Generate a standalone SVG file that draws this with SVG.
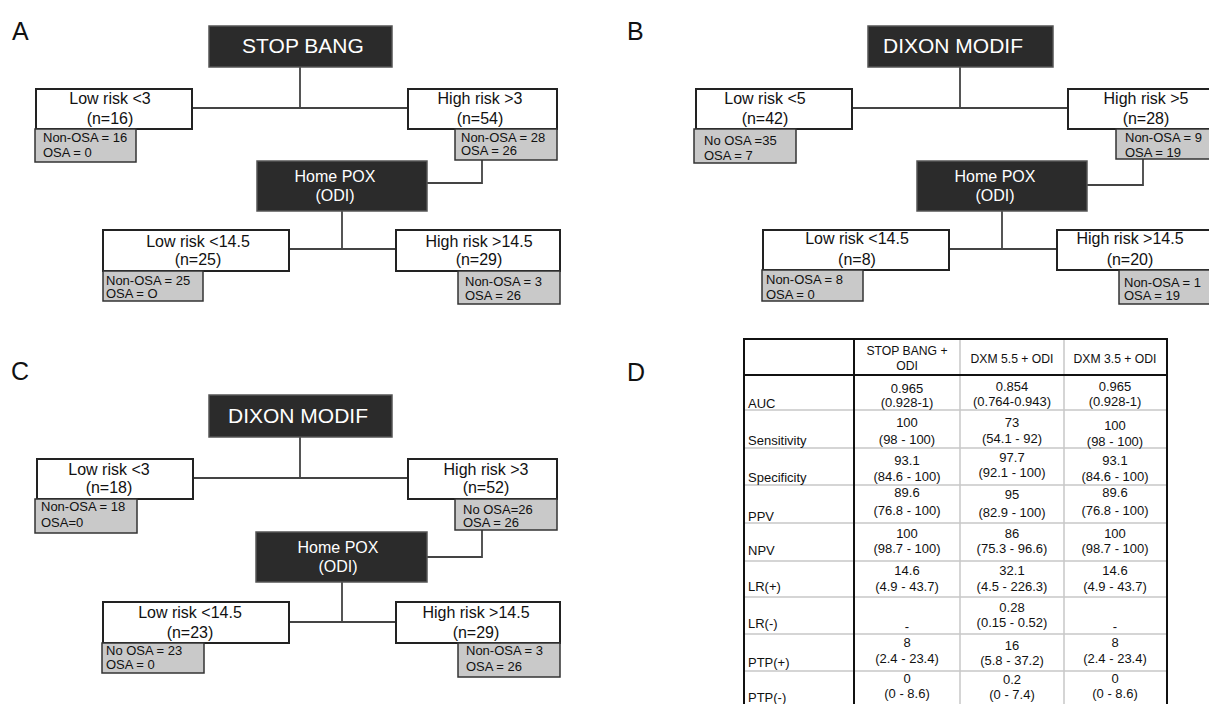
<svg xmlns="http://www.w3.org/2000/svg" width="1209" height="704" viewBox="0 0 1209 704">
<style>
text{font-family:"Liberation Sans",Arial,Helvetica,sans-serif;fill:#111}
.dark{fill:#2b2b2b;stroke:#555;stroke-width:1.5}
.white{fill:#fff;stroke:#222;stroke-width:2}
.gray{fill:#c9c9c9;stroke:#333;stroke-width:1.5}
.conn{fill:none;stroke:#444;stroke-width:1.8}
.ttl{font-size:21px;fill:#fff}
.pox{font-size:16px;fill:#fff;text-anchor:middle}
.n{font-size:16px;text-anchor:middle}
.g{font-size:13px}
.lbl{font-size:25px}
.tb{font-size:13px}
.tc{font-size:13px;text-anchor:middle}
.th{font-size:12.2px;text-anchor:middle}
.thick{stroke:#111;stroke-width:2;fill:none}
.thin{stroke:#c8c8c8;stroke-width:1.5;fill:none}
</style>
<rect width="1209" height="704" fill="#fff"/>

<!-- Panel labels -->
<text class="lbl" x="12" y="40">A</text>
<text class="lbl" x="627" y="40">B</text>
<text class="lbl" x="11" y="380">C</text>
<text class="lbl" x="627" y="381">D</text>

<!-- Connectors -->
<g id="connectors">
<path class="conn" d="M300,67V108M192,108H408"/>
<path class="conn" d="M482,160V183H427"/>
<path class="conn" d="M342,211V249M289,249H396"/>
<path class="conn" d="M960,67V108M852,108H1068"/>
<path class="conn" d="M1143,159V185H1087"/>
<path class="conn" d="M1002,211V249M949,249H1057"/>
<path class="conn" d="M300,437V478M193,478H408"/>
<path class="conn" d="M482,530V557H427"/>
<path class="conn" d="M342,582V622M289,622H396"/>
</g>

<!-- Panel A -->
<g id="a-stopbang"><rect class="dark" x="209" y="26" width="183" height="41"/><text class="ttl" x="303" y="53" text-anchor="middle">STOP BANG</text></g>
<g id="a-low"><rect class="white" x="36" y="89" width="156" height="40"/><text class="n" x="110" y="104">Low risk &lt;3</text><text class="n" x="110" y="124">(n=16)</text></g>
<g id="a-low-res"><rect class="gray" x="35" y="129" width="101" height="33"/><text class="g" x="43" y="142">Non-OSA = 16</text><text class="g" x="43" y="157">OSA = 0</text></g>
<g id="a-high"><rect class="white" x="408" y="89" width="149" height="40"/><text class="n" x="480" y="104">High risk &gt;3</text><text class="n" x="480" y="124">(n=54)</text></g>
<g id="a-high-res"><rect class="gray" x="455" y="129" width="102" height="31"/><text class="g" x="461" y="142">Non-OSA = 28</text><text class="g" x="461" y="155">OSA = 26</text></g>
<g id="a-pox"><rect class="dark" x="257" y="161" width="170" height="50"/><text class="pox" x="335" y="182">Home POX</text><text class="pox" x="335" y="201">(ODI)</text></g>
<g id="a-low2"><rect class="white" x="103" y="230" width="186" height="41"/><text class="n" x="198" y="247">Low risk &lt;14.5</text><text class="n" x="198" y="265">(n=25)</text></g>
<g id="a-low2-res"><rect class="gray" x="103" y="271" width="100" height="30"/><text class="g" x="106" y="285">Non-OSA = 25</text><text class="g" x="106" y="298">OSA = O</text></g>
<g id="a-high2"><rect class="white" x="396" y="230" width="164" height="41"/><text class="n" x="479" y="247">High risk &gt;14.5</text><text class="n" x="479" y="265">(n=29)</text></g>
<g id="a-high2-res"><rect class="gray" x="458" y="271" width="102" height="33"/><text class="g" x="465" y="286">Non-OSA = 3</text><text class="g" x="465" y="300">OSA = 26</text></g>

<!-- Panel B -->
<g id="b-dixon"><rect class="dark" x="868" y="26" width="185" height="41"/><text class="ttl" x="883" y="53">DIXON MODIF</text></g>
<g id="b-low"><rect class="white" x="696" y="89" width="156" height="40"/><text class="n" x="765" y="104">Low risk &lt;5</text><text class="n" x="765" y="124">(n=42)</text></g>
<g id="b-low-res"><rect class="gray" x="694" y="129" width="102" height="34"/><text class="g" x="704" y="145">No OSA =35</text><text class="g" x="704" y="160">OSA = 7</text></g>
<g id="b-high"><rect class="white" x="1068" y="89" width="160" height="40"/><text class="n" x="1146" y="104">High risk &gt;5</text><text class="n" x="1146" y="124">(n=28)</text></g>
<g id="b-high-res"><rect class="gray" x="1116" y="129" width="110" height="30"/><text class="g" x="1125" y="142">Non-OSA = 9</text><text class="g" x="1125" y="157">OSA = 19</text></g>
<g id="b-pox"><rect class="dark" x="917" y="161" width="170" height="50"/><text class="pox" x="995" y="182">Home POX</text><text class="pox" x="995" y="201">(ODI)</text></g>
<g id="b-low2"><rect class="white" x="763" y="230" width="186" height="40"/><text class="n" x="857" y="244">Low risk &lt;14.5</text><text class="n" x="857" y="265">(n=8)</text></g>
<g id="b-low2-res"><rect class="gray" x="762" y="270" width="101" height="31"/><text class="g" x="766" y="284">Non-OSA = 8</text><text class="g" x="766" y="299">OSA = 0</text></g>
<g id="b-high2"><rect class="white" x="1057" y="230" width="170" height="40"/><text class="n" x="1130" y="244">High risk &gt;14.5</text><text class="n" x="1130" y="265">(n=20)</text></g>
<g id="b-high2-res"><rect class="gray" x="1119" y="270" width="110" height="34"/><text class="g" x="1124" y="287">Non-OSA = 1</text><text class="g" x="1124" y="300">OSA = 19</text></g>

<!-- Panel C -->
<g id="c-dixon"><rect class="dark" x="209" y="395" width="183" height="42"/><text class="ttl" x="228" y="423">DIXON MODIF</text></g>
<g id="c-low"><rect class="white" x="37" y="459" width="156" height="40"/><text class="n" x="109" y="475">Low risk &lt;3</text><text class="n" x="109" y="493">(n=18)</text></g>
<g id="c-low-res"><rect class="gray" x="35" y="499" width="102" height="34"/><text class="g" x="41" y="511">Non-OSA = 18</text><text class="g" x="41" y="527">OSA=0</text></g>
<g id="c-high"><rect class="white" x="408" y="459" width="149" height="40"/><text class="n" x="486" y="475">High risk &gt;3</text><text class="n" x="486" y="493">(n=52)</text></g>
<g id="c-high-res"><rect class="gray" x="455" y="499" width="102" height="31"/><text class="g" x="463" y="514">No OSA=26</text><text class="g" x="463" y="527">OSA = 26</text></g>
<g id="c-pox"><rect class="dark" x="256" y="532" width="171" height="50"/><text class="pox" x="338" y="553">Home POX</text><text class="pox" x="338" y="572">(ODI)</text></g>
<g id="c-low2"><rect class="white" x="103" y="602" width="186" height="41"/><text class="n" x="190" y="618">Low risk &lt;14.5</text><text class="n" x="190" y="638">(n=23)</text></g>
<g id="c-low2-res"><rect class="gray" x="102" y="643" width="102" height="30"/><text class="g" x="106" y="655">No OSA = 23</text><text class="g" x="106" y="669">OSA = 0</text></g>
<g id="c-high2"><rect class="white" x="396" y="602" width="164" height="41"/><text class="n" x="476" y="618">High risk &gt;14.5</text><text class="n" x="476" y="638">(n=29)</text></g>
<g id="c-high2-res"><rect class="gray" x="458" y="643" width="102" height="34"/><text class="g" x="466" y="655">Non-OSA = 3</text><text class="g" x="466" y="671">OSA = 26</text></g>

<!-- Panel D table -->
<g id="d-table">
<path class="thin" d="M744,410H1167M744,448H1167M744,485H1167M744,523H1167M744,561H1167M744,597H1167M744,634H1167M744,671H1167M960,339V710M1064,339V710"/>
<path class="thick" d="M744,375H1167M854,339V710"/>
<rect class="thick" x="744" y="339" width="423" height="371"/>
<text class="th" x="907" y="355">STOP BANG +</text><text class="th" x="907" y="370">ODI</text>
<text class="th" x="1012" y="363">DXM 5.5 + ODI</text>
<text class="th" x="1115" y="363">DXM 3.5 + ODI</text>

<text class="tb" x="748" y="408">AUC</text>
<text class="tb" x="748" y="445">Sensitivity</text>
<text class="tb" x="748" y="482">Specificity</text>
<text class="tb" x="748" y="521">PPV</text>
<text class="tb" x="748" y="555">NPV</text>
<text class="tb" x="748" y="591">LR(+)</text>
<text class="tb" x="748" y="628">LR(-)</text>
<text class="tb" x="748" y="667">PTP(+)</text>
<text class="tb" x="748" y="702">PTP(-)</text>

<text class="tc" x="907" y="393">0.965</text><text class="tc" x="907" y="407">(0.928-1)</text>
<text class="tc" x="1012" y="391">0.854</text><text class="tc" x="1012" y="406">(0.764-0.943)</text>
<text class="tc" x="1115" y="391">0.965</text><text class="tc" x="1115" y="406">(0.928-1)</text>

<text class="tc" x="907" y="427">100</text><text class="tc" x="907" y="444">(98 - 100)</text>
<text class="tc" x="1012" y="427">73</text><text class="tc" x="1012" y="443">(54.1 - 92)</text>
<text class="tc" x="1115" y="430">100</text><text class="tc" x="1115" y="446">(98 - 100)</text>

<text class="tc" x="907" y="465">93.1</text><text class="tc" x="907" y="481">(84.6 - 100)</text>
<text class="tc" x="1012" y="462">97.7</text><text class="tc" x="1012" y="477">(92.1 - 100)</text>
<text class="tc" x="1115" y="465">93.1</text><text class="tc" x="1115" y="481">(84.6 - 100)</text>

<text class="tc" x="907" y="497">89.6</text><text class="tc" x="907" y="515">(76.8 - 100)</text>
<text class="tc" x="1012" y="499">95</text><text class="tc" x="1012" y="517">(82.9 - 100)</text>
<text class="tc" x="1115" y="497">89.6</text><text class="tc" x="1115" y="515">(76.8 - 100)</text>

<text class="tc" x="907" y="538">100</text><text class="tc" x="907" y="553">(98.7 - 100)</text>
<text class="tc" x="1012" y="538">86</text><text class="tc" x="1012" y="553">(75.3 - 96.6)</text>
<text class="tc" x="1115" y="538">100</text><text class="tc" x="1115" y="553">(98.7 - 100)</text>

<text class="tc" x="907" y="575">14.6</text><text class="tc" x="907" y="591">(4.9 - 43.7)</text>
<text class="tc" x="1012" y="575">32.1</text><text class="tc" x="1012" y="591">(4.5 - 226.3)</text>
<text class="tc" x="1115" y="575">14.6</text><text class="tc" x="1115" y="591">(4.9 - 43.7)</text>

<text class="tc" x="907" y="631">-</text>
<text class="tc" x="1012" y="612">0.28</text><text class="tc" x="1012" y="627">(0.15 - 0.52)</text>
<text class="tc" x="1115" y="631">-</text>

<text class="tc" x="907" y="647">8</text><text class="tc" x="907" y="663">(2.4 - 23.4)</text>
<text class="tc" x="1012" y="650">16</text><text class="tc" x="1012" y="665">(5.8 - 37.2)</text>
<text class="tc" x="1115" y="647">8</text><text class="tc" x="1115" y="663">(2.4 - 23.4)</text>

<text class="tc" x="907" y="683">0</text><text class="tc" x="907" y="698">(0 - 8.6)</text>
<text class="tc" x="1012" y="684">0.2</text><text class="tc" x="1012" y="699">(0 - 7.4)</text>
<text class="tc" x="1115" y="683">0</text><text class="tc" x="1115" y="698">(0 - 8.6)</text>
</g>
</svg>
